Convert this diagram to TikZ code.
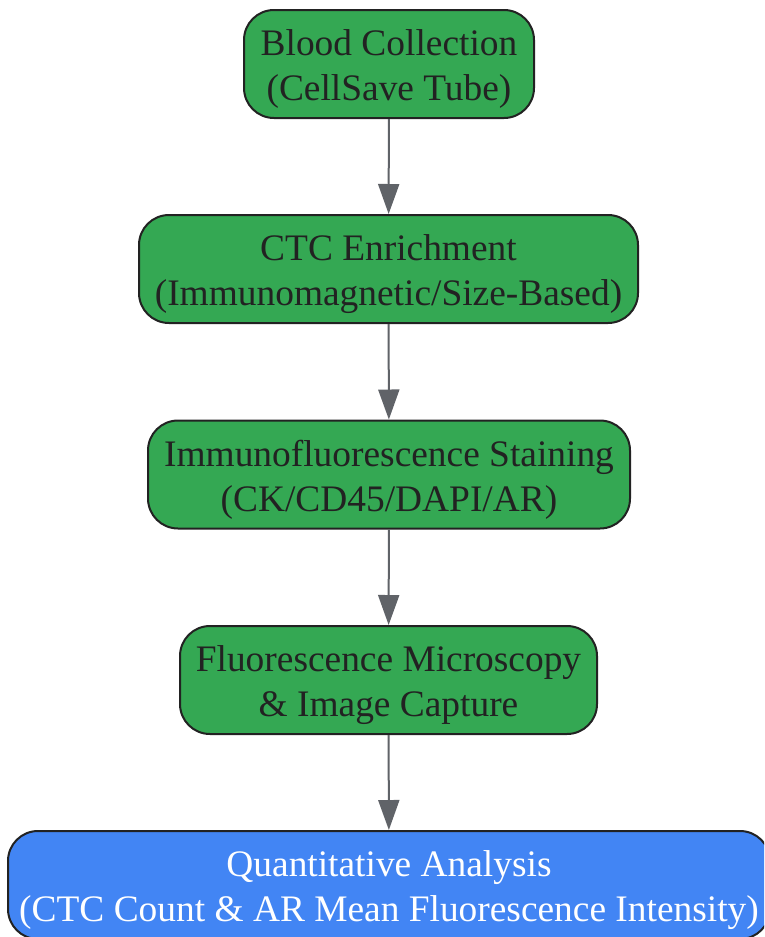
\documentclass[tikz,border=0pt]{standalone}
\usepackage{fontspec}
\setmainfont{Liberation Serif}
\usetikzlibrary{arrows.meta}
\definecolor{boxgreen}{HTML}{34A853}
\definecolor{boxblue}{HTML}{4285F4}
\definecolor{edgedark}{HTML}{222222}
\definecolor{arrowgray}{HTML}{606368}
\begin{document}
\begin{tikzpicture}[x=1pt,y=-1pt,
  stepbox/.style={draw=edgedark, line width=2pt, rounded corners=30pt, fill=boxgreen,
    inner sep=0pt, minimum height=108pt},
  finalbox/.style={stepbox, fill=boxblue},
  steptext/.style={text=edgedark, align=center, inner sep=0pt,
    font=\fontsize{37.4}{45}\selectfont},
  finaltext/.style={steptext, text=white},
  flow/.style={draw=arrowgray, line width=2pt, -{Triangle[width=21pt,length=30pt]}}]
\clip (0,0) rectangle (764,937);
\fill[white] (0,0) rectangle (764,937);
\node[stepbox, minimum width=290pt] (a) at (389,64) {};
\node[stepbox, minimum width=499pt] (b) at (388.5,269) {};
\node[stepbox, minimum width=482pt] (c) at (389,474.5) {};
\node[stepbox, minimum width=417pt] (d) at (388.5,680) {};
\node[finalbox, minimum width=762pt] (e) at (389,885) {};
\node[steptext] (ta) at ([yshift=-5pt]a.center) {Blood Collection\\(CellSave Tube)};
\node[steptext] (tb) at ([yshift=-5pt]b.center) {CTC Enrichment\\(Immunomagnetic/Size-Based)};
\node[steptext] (tc) at ([yshift=-5pt]c.center) {Immunofluorescence Staining\\(CK/CD45/DAPI/AR)};
\node[steptext] (td) at ([yshift=-5pt]d.center) {Fluorescence Microscopy\\\& Image Capture};
\node[finaltext] (te) at ([yshift=-5pt]e.center) {Quantitative Analysis\\(CTC Count \& AR Mean Fluorescence Intensity)};
\draw[flow] (a) -- (b);
\draw[flow] (b) -- (c);
\draw[flow] (c) -- (d);
\draw[flow] (d) -- (e);
\end{tikzpicture}
\end{document}
